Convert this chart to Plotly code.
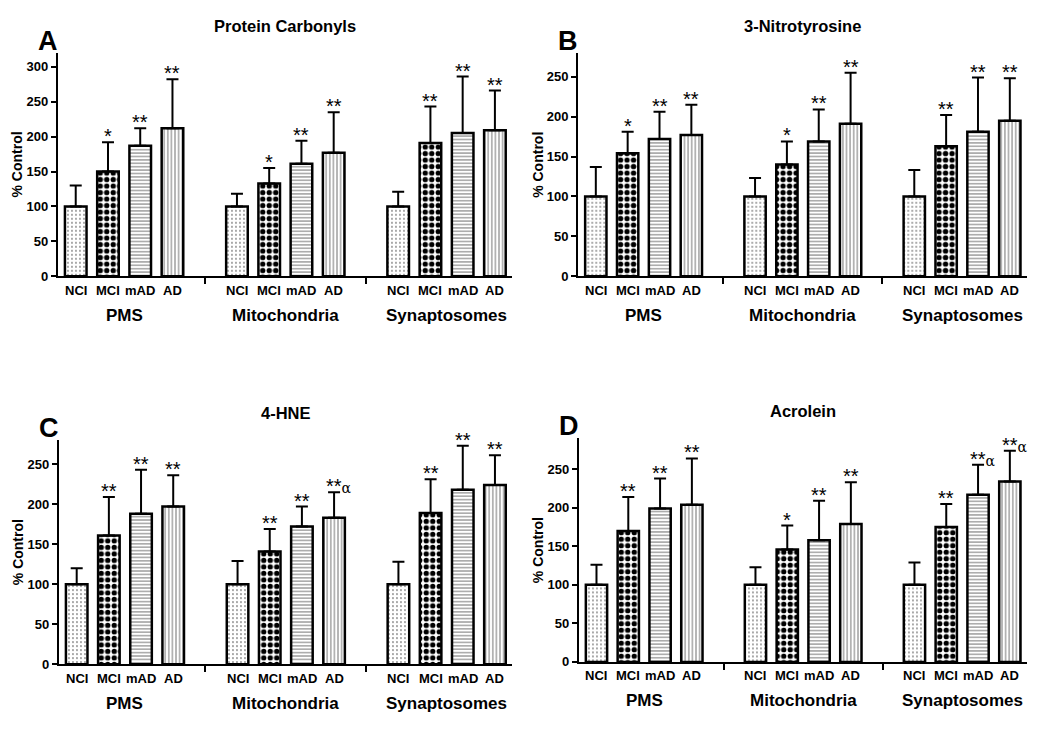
import plotly.graph_objects as go

categories = ["NCI", "MCI", "mAD", "AD"]
groups = ["PMS", "Mitochondria", "Synaptosomes"]

titles = ["Protein Carbonyls", "3-Nitrotyrosine", "4-HNE", "Acrolein"]
letters = ["A", "B", "C", "D"]

# values ordered: PMS (NCI, MCI, mAD, AD), Mitochondria (...), Synaptosomes (...)
carbonyl_mean = [100, 150, 187, 212, 100, 133, 161, 177, 100, 191, 205, 209]
carbonyl_sem = [30, 42, 25, 70, 18, 22, 33, 58, 21, 52, 81, 57]
carbonyl_sig = ["", "*", "**", "**", "", "*", "**", "**", "", "**", "**", "**"]

nitro_mean = [100, 154, 172, 177, 100, 140, 169, 191, 100, 163, 181, 195]
nitro_sem = [37, 27, 34, 38, 23, 29, 40, 64, 33, 39, 68, 53]
nitro_sig = ["", "*", "**", "**", "", "*", "**", "**", "", "**", "**", "**"]

hne_mean = [100, 161, 188, 197, 100, 141, 172, 183, 100, 189, 218, 224]
hne_sem = [20, 48, 55, 39, 29, 28, 25, 32, 28, 42, 55, 37]
hne_sig = ["", "**", "**", "**", "", "**", "**", "**α", "", "**", "**", "**"]

acrolein_mean = [100, 170, 199, 204, 100, 146, 158, 179, 100, 175, 217, 234]
acrolein_sem = [26, 44, 39, 60, 23, 31, 51, 54, 29, 30, 39, 40]
acrolein_sig = ["", "**", "**", "**", "", "*", "**", "**", "", "**", "**α", "**α"]

y_max = [320, 280, 280, 290]
y_ticks = [[0, 50, 100, 150, 200, 250, 300], [0, 50, 100, 150, 200, 250],
           [0, 50, 100, 150, 200, 250], [0, 50, 100, 150, 200, 250]]

panels = [
    (carbonyl_mean, carbonyl_sem, carbonyl_sig),
    (nitro_mean, nitro_sem, nitro_sig),
    (hne_mean, hne_sem, hne_sig),
    (acrolein_mean, acrolein_sem, acrolein_sig),
]

# page body has an 8px margin: the figure starts at (8, 8) in the window
OFF = 8
W, H = 1034, 716
# pixel boxes of plot areas in window coordinates: (x0, x1, ytop, ybottom)
boxes = [(58, 512, 53.3, 279.3), (578.3, 1026.7, 53.3, 279.3),
         (59, 512, 445, 671.7), (579, 1026.7, 443.3, 669.3)]

patterns = [
    dict(shape=".", fgcolor="#8a8a8a", bgcolor="white", size=4, solidity=0.18, fillmode="replace"),
    dict(shape=".", fgcolor="black", bgcolor="white", size=6.5, solidity=0.52, fillmode="replace"),
    dict(shape="-", fgcolor="#8a8a8a", bgcolor="white", size=3.4, solidity=0.35, fillmode="replace"),
    dict(shape="|", fgcolor="#8a8a8a", bgcolor="white", size=3.6, solidity=0.33, fillmode="replace"),
]

FONT = "Liberation Sans, Arial, sans-serif"
fig = go.Figure()
layout = dict(width=W, height=H, margin=dict(l=0, r=0, t=0, b=0), autosize=False,
              paper_bgcolor="white", plot_bgcolor="white", showlegend=False,
              barmode="overlay", font=dict(family=FONT, color="black"))
annotations = []

for p, (means, sems, sigs) in enumerate(panels):
    n = "" if p == 0 else str(p + 1)
    xa, ya = "x" + n, "y" + n
    x0, x1, yt, yb = [v - OFF for v in boxes[p]]
    layout["xaxis" + n] = dict(
        domain=[x0 / W, x1 / W], range=[-0.55, 13.53], anchor=ya,
        showline=True, linewidth=2.4, linecolor="black", showgrid=False, zeroline=False,
        tickmode="array", tickvals=[4, 9], ticktext=["", ""], ticks="outside",
        ticklen=6, tickwidth=2, tickcolor="black", fixedrange=True)
    layout["yaxis" + n] = dict(
        domain=[1 - yb / H, 1 - yt / H], range=[0, y_max[p]], anchor=xa,
        showline=True, linewidth=2.4, linecolor="black", showgrid=False, zeroline=False,
        tickmode="array", tickvals=y_ticks[p], ticks="outside", ticklen=5, tickwidth=2,
        tickcolor="black", tickfont=dict(family=FONT, size=13, color="black", weight="bold"),
        fixedrange=True)
    for c, cat in enumerate(categories):
        idx = [g * 4 + c for g in range(3)]
        xs = [g * 5 + c for g in range(3)]
        fig.add_trace(go.Bar(
            x=xs, y=[means[i] for i in idx], width=0.67, xaxis=xa, yaxis=ya,
            marker=dict(color="white", line=dict(color="black", width=2.5), pattern=patterns[c]),
            error_y=dict(type="data", symmetric=False, array=[sems[i] for i in idx],
                         arrayminus=[0, 0, 0], color="black", thickness=2, width=6),
            name=cat, hoverinfo="skip"))
        for g in range(3):
            i = g * 4 + c
            annotations.append(dict(
                x=g * 5 + c, y=0, xref=xa, yref=ya, text="<b>%s</b>" % cat, showarrow=False,
                yanchor="middle", yshift=-14, font=dict(size=13, family=FONT, color="black")))
            if sigs[i]:
                txt = sigs[i].replace("α", "<span style='font-family:DejaVu Serif;font-size:14px'>α</span>")
                annotations.append(dict(
                    x=g * 5 + c, y=means[i] + sems[i], xref=xa, yref=ya, text=txt,
                    showarrow=False, yanchor="bottom", yshift=-7, xanchor="center",
                    xshift=(5 if "α" in sigs[i] else 0),
                    font=dict(size=20, family=FONT, color="black")))
    for g, grp in enumerate(groups):
        annotations.append(dict(
            x=g * 5 + 1.5, y=0, xref=xa, yref=ya, text="<b>%s</b>" % grp, showarrow=False,
            yanchor="middle", yshift=-39, font=dict(size=17, family=FONT, color="black")))
    annotations.append(dict(
        x=0.5, y=1, xref=xa + " domain", yref=ya + " domain", text="<b>%s</b>" % titles[p],
        showarrow=False, yanchor="middle", yshift=27, font=dict(size=16.5, family=FONT, color="black")))
    annotations.append(dict(
        x=0, y=1, xref=xa + " domain", yref=ya + " domain", text="<b>%s</b>" % letters[p],
        showarrow=False, yanchor="middle", xanchor="center", xshift=-10, yshift=12,
        font=dict(size=27, family=FONT, color="black")))
    annotations.append(dict(
        x=(x0 - 41) / W, y=1 - ((yt + yb) / 2) / H, xref="paper", yref="paper",
        text="<b>% Control</b>", showarrow=False, textangle=-90, xanchor="center", yanchor="middle",
        font=dict(size=14, family=FONT, color="black")))

layout["annotations"] = annotations
fig.update_layout(**layout)
fig.write_html("out.html")
